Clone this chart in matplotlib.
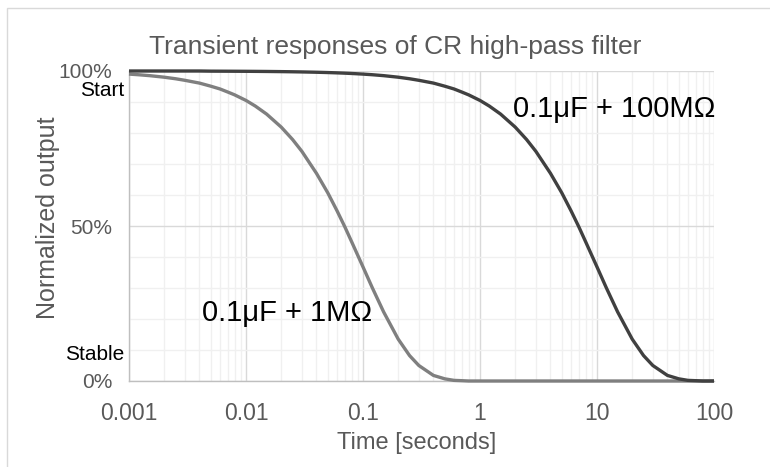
import matplotlib
matplotlib.use("Agg")
import matplotlib.pyplot as plt
from matplotlib.patches import Rectangle
from matplotlib.ticker import FixedLocator, LogLocator, NullFormatter

plt.rcParams['font.family'] = ['Liberation Sans', 'DejaVu Sans']

# time samples [s], one row per decade, and normalized outputs
time_s = [0.001, 0.0012, 0.0015, 0.002, 0.0025, 0.003, 0.004, 0.005, 0.006, 0.007, 0.008,
          0.01, 0.012, 0.015, 0.02, 0.025, 0.03, 0.04, 0.05, 0.06, 0.07, 0.08,
          0.1, 0.12, 0.15, 0.2, 0.25, 0.3, 0.4, 0.5, 0.6, 0.7, 0.8,
          1, 1.2, 1.5, 2, 2.5, 3, 4, 5, 6, 7, 8,
          10, 12, 15, 20, 25, 30, 40, 50, 60, 70, 80,
          100]
out_1meg = [0.990, 0.988, 0.985, 0.980, 0.975, 0.970, 0.961, 0.951, 0.942, 0.932, 0.923,
            0.905, 0.887, 0.861, 0.819, 0.779, 0.741, 0.670, 0.607, 0.549, 0.497, 0.449,
            0.368, 0.301, 0.223, 0.135, 0.082, 0.050, 0.018, 0.007, 0.002, 0.001, 0.000,
            0, 0, 0, 0, 0, 0, 0, 0, 0, 0, 0,
            0, 0, 0, 0, 0, 0, 0, 0, 0, 0, 0,
            0]
out_100meg = [1.000, 1.000, 1.000, 1.000, 1.000, 1.000, 1.000, 0.9995, 0.9994, 0.9993, 0.9992,
              0.999, 0.9988, 0.9985, 0.998, 0.9975, 0.997, 0.996, 0.995, 0.994, 0.993, 0.992,
              0.990, 0.988, 0.985, 0.980, 0.975, 0.970, 0.961, 0.951, 0.942, 0.932, 0.923,
              0.905, 0.887, 0.861, 0.819, 0.779, 0.741, 0.670, 0.607, 0.549, 0.497, 0.449,
              0.368, 0.301, 0.223, 0.135, 0.082, 0.050, 0.018, 0.007, 0.002, 0.001, 0.000,
              0.000]

x_ticks = [0.001, 0.01, 0.1, 1, 10, 100]
x_ticklabels = ['0.001', '0.01', '0.1', '1', '10', '100']
y_ticks = [0, 0.5, 1.0]
y_ticklabels = ['0%', '50%', '100%']

W, H = 770, 467
fig = plt.figure(figsize=(W / 100, H / 100), dpi=100)
ax = fig.add_axes([129 / W, 1 - 381 / H, (714 - 129) / W, (381 - 71) / H])

# chart-area border (Excel style)
fig.patches.append(Rectangle((7 / W, -0.1), 1.2, 1 - 8 / H + 0.1,
                             transform=fig.transFigure, fill=False,
                             edgecolor='#d9d9d9', linewidth=1))

ax.plot(time_s, out_1meg, color='#7f7f7f', linewidth=2.4, clip_on=False,
        solid_capstyle='butt', solid_joinstyle='round', zorder=3)
ax.plot(time_s, out_100meg, color='#404040', linewidth=2.4, clip_on=False,
        solid_capstyle='butt', solid_joinstyle='round', zorder=4)

ax.set_xscale('log')
ax.set_xlim(0.001, 100)
ax.set_ylim(0, 1)

ax.xaxis.set_major_locator(FixedLocator(x_ticks))
ax.set_xticklabels(x_ticklabels)
ax.xaxis.set_minor_locator(LogLocator(base=10, subs=range(2, 10), numticks=20))
ax.xaxis.set_minor_formatter(NullFormatter())
ax.yaxis.set_major_locator(FixedLocator(y_ticks))
ax.set_yticklabels(y_ticklabels)
ax.yaxis.set_minor_locator(FixedLocator([0.1, 0.2, 0.3, 0.4, 0.6, 0.7, 0.8, 0.9]))

ax.grid(which='major', color='#d9d9d9', linewidth=1)
ax.grid(which='minor', color='#f0f0f0', linewidth=1)
ax.set_axisbelow(True)

ax.tick_params(which='both', length=0, colors='#595959')
ax.tick_params(axis='x', labelsize=16.5, pad=15)
ax.tick_params(axis='y', labelsize=15, pad=12)
for side in ['top', 'right']:
    ax.spines[side].set_visible(False)
for side in ['left', 'bottom']:
    ax.spines[side].set_color('#bfbfbf')
    ax.spines[side].set_linewidth(1)

fig.text(395 / W, 1 - 54 / H, 'Transient responses of CR high-pass filter',
         color='#595959', fontsize=19, ha='center', va='baseline')
fig.text(417 / W, 1 - 449 / H, 'Time [seconds]', color='#595959',
         fontsize=17, ha='center', va='baseline')
fig.text(48 / W, 1 - 218 / H, 'Normalized output', color='#595959',
         fontsize=18, ha='center', va='center', rotation=90)

lab = ax.get_yaxis_transform()
ax.text(-0.008, 0.937, 'Start', transform=lab, ha='right', va='center',
        fontsize=15, color='black')
ax.text(-0.008, 0.084, 'Stable', transform=lab, ha='right', va='center',
        fontsize=15, color='black')

ax.text(1.91, 0.852, '0.1μF + 100MΩ', fontsize=21, color='black',
        ha='left', va='baseline')
ax.text(0.00421, 0.194, '0.1μF + 1MΩ', fontsize=21, color='black',
        ha='left', va='baseline')

fig.savefig('out.png', dpi=100)
